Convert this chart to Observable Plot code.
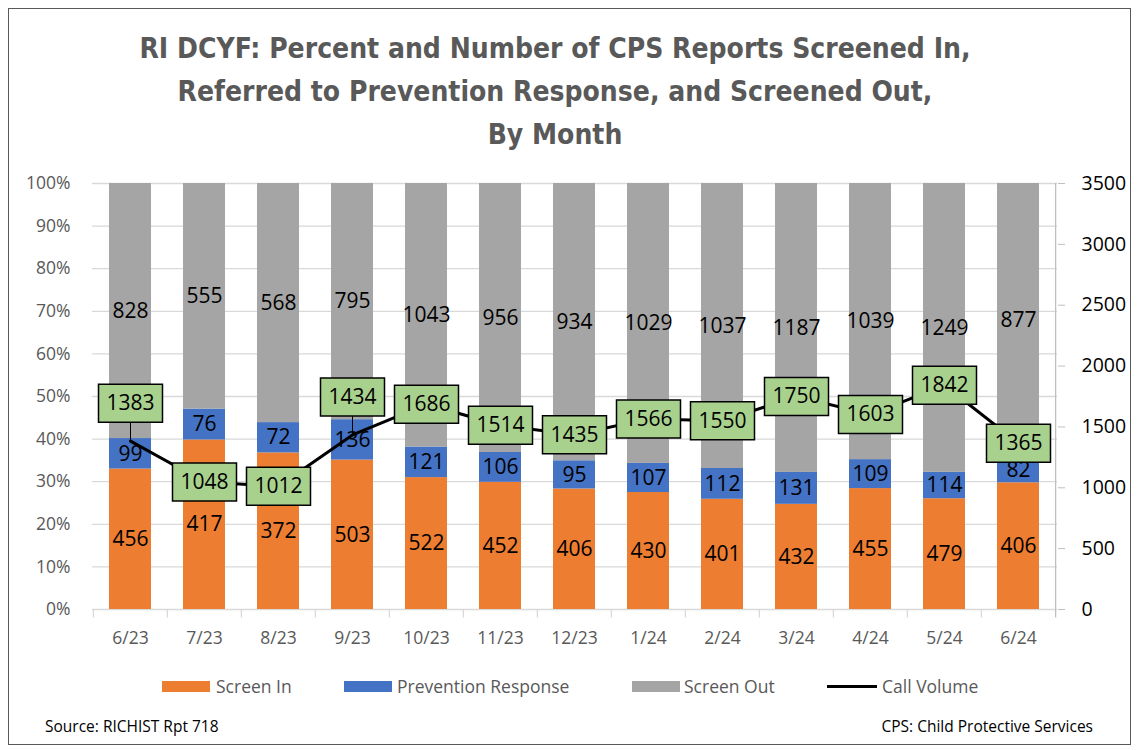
<!DOCTYPE html>
<html>
<head>
<meta charset="utf-8">
<script src="https://cdn.jsdelivr.net/npm/d3@7"></script>
<script src="https://cdn.jsdelivr.net/npm/@observablehq/plot@0.6"></script>
<style>
  html, body { margin: 0; padding: 0; background: #fff; }
  #wrap { position: relative; width: 1138px; height: 750px; background: #fff; overflow: hidden; font-family: "Open Sans", sans-serif; }
  #frame { position: absolute; left: 8px; top: 8px; width: 1123px; height: 737px; border: 1.5px solid #595959; box-sizing: border-box; }
  #title { position: absolute; top: 27px; left: 0; width: 1110px; text-align: center; font-family: "DejaVu Sans Condensed", "Liberation Sans Narrow", sans-serif; font-weight: bold; font-size: 28px; line-height: 43px; color: #595959; }
  #chart { position: absolute; left: 0; top: 165px; }
  .leg { position: absolute; top: 675px; font-size: 17.5px; color: #595959; line-height: 22px; white-space: nowrap; }
  .sw { position: absolute; }
  .foot { position: absolute; top: 715px; font-size: 15.5px; color: #000; white-space: nowrap; }
</style>
</head>
<body>
<div id="wrap">
  <div id="frame"></div>
  <div id="title">RI DCYF: Percent and Number of CPS Reports Screened In,<br>Referred to Prevention Response, and Screened Out,<br>By Month</div>
  <div id="chart"></div>
  <div id="legend"></div>
  <div class="foot" style="left:45px">Source: RICHIST Rpt 718</div>
  <div class="foot" style="right:45px">CPS: Child Protective Services</div>
</div>
<script>
const months = ["6/23","7/23","8/23","9/23","10/23","11/23","12/23","1/24","2/24","3/24","4/24","5/24","6/24"];
const screenIn   = [456, 417, 372, 503, 522, 452, 406, 430, 401, 432, 455, 479, 406];
const prevention = [99, 76, 72, 136, 121, 106, 95, 107, 112, 131, 109, 114, 82];
const screenOut  = [828, 555, 568, 795, 1043, 956, 934, 1029, 1037, 1187, 1039, 1249, 877];
const callVolume = [1383, 1048, 1012, 1434, 1686, 1514, 1435, 1566, 1550, 1750, 1603, 1842, 1365];
const seriesNames = ["Screen In", "Prevention Response", "Screen Out"];
const seriesColors = ["#ED7D31", "#4472C4", "#A5A5A5"];
const leftTicks = [0, 0.1, 0.2, 0.3, 0.4, 0.5, 0.6, 0.7, 0.8, 0.9, 1];
const rightTicks = [0, 500, 1000, 1500, 2000, 2500, 3000, 3500];
const rightMax = 3500;
const raisedLabels = ["6/23", "9/23"];

const rows = [];
months.forEach((m, i) => {
  rows.push({month: m, series: seriesNames[0], value: screenIn[i]});
  rows.push({month: m, series: seriesNames[1], value: prevention[i]});
  rows.push({month: m, series: seriesNames[2], value: screenOut[i]});
});
const calls = months.map((m, i) => ({month: m, v: callVolume[i], y: callVolume[i] / rightMax}));

const W = 1138, H = 495, ML = 92, MR = 81, MT = 18, MB = 51;
const step = (W - ML - MR) / months.length;
const raise = 0.089;
const labelY = d => d.y + (raisedLabels.includes(d.month) ? raise : 0);

const boxSymbol = {
  draw(ctx) {
    ctx.moveTo(-32, -19); ctx.lineTo(32, -19); ctx.lineTo(32, 19); ctx.lineTo(-32, 19); ctx.closePath();
  }
};

const chart = Plot.plot({
  width: W, height: H,
  marginLeft: ML, marginRight: MR, marginTop: MT, marginBottom: MB,
  style: {fontFamily: "'Open Sans', sans-serif", background: "transparent", overflow: "visible"},
  x: {type: "band", domain: months, paddingInner: 0.43, paddingOuter: 0.215, label: null},
  y: {domain: [0, 1], label: null},
  color: {domain: seriesNames, range: seriesColors},
  marks: [
    Plot.gridY(leftTicks, {stroke: "#d9d9d9", strokeOpacity: 1, strokeWidth: 1.3}),
    Plot.ruleX(months, {x: d => d, y1: 0, y2: -0.02, dx: -step / 2, stroke: "#d9d9d9", strokeWidth: 1.3}),
    Plot.ruleX([months[months.length - 1]], {x: d => d, y1: -0.02, y2: 1, dx: step / 2, stroke: "#bfbfbf", strokeWidth: 1.3}),
    Plot.barY(rows, {x: "month", y: "value", fill: "series", offset: "normalize"}),
    Plot.text(rows, Plot.stackY({x: "month", y: "value", z: "series", offset: "normalize", text: d => String(d.value), fontSize: 21, fill: "#000"})),
    Plot.axisY(leftTicks, {anchor: "left", tickFormat: d3.format(".0%"), tickSize: 0, tickPadding: 22, fontSize: 17.5, fill: "#595959"}),
    Plot.axisY(rightTicks.map(v => v / rightMax), {anchor: "right", tickFormat: d => String(Math.round(d * rightMax)), tickSize: 7, tickPadding: 17, fontSize: 19.5, stroke: "#bfbfbf", fill: "#000"}),
    Plot.axisX({tickSize: 0, tickPadding: 22, fontSize: 17.5, fill: "#595959"}),
    Plot.line(calls, {x: "month", y: "y", stroke: "#000", strokeWidth: 3}),
    Plot.link(calls.filter(d => raisedLabels.includes(d.month)), {x1: "month", x2: "month", y1: "y", y2: labelY, stroke: "#000", strokeWidth: 1}),
    Plot.dot(calls, {x: "month", y: labelY, symbol: boxSymbol, r: 5, fill: "#A9D18E", fillOpacity: 1, stroke: "#000", strokeWidth: 1.5}),
    Plot.text(calls, {x: "month", y: labelY, text: d => String(d.v), fontSize: 21, fill: "#000"})
  ]
});
document.getElementById("chart").appendChild(chart);

// Legend (HTML, below the chart)
const legend = document.getElementById("legend");
const legItems = [
  {label: seriesNames[0], color: seriesColors[0], kind: "box", sx: 162, tx: 216},
  {label: seriesNames[1], color: seriesColors[1], kind: "box", sx: 344, tx: 397},
  {label: seriesNames[2], color: seriesColors[2], kind: "box", sx: 632, tx: 684},
  {label: "Call Volume", color: "#000", kind: "line", sx: 827, tx: 882}
];
legItems.forEach(it => {
  const sw = document.createElement("div");
  sw.className = "sw";
  sw.style.left = it.sx + "px";
  sw.style.width = (it.kind === "line" ? 50 : 48) + "px";
  sw.style.height = (it.kind === "line" ? 3 : 11) + "px";
  sw.style.top = (it.kind === "line" ? 685 : 681) + "px";
  sw.style.background = it.color;
  legend.appendChild(sw);
  const t = document.createElement("div");
  t.className = "leg";
  t.style.left = it.tx + "px";
  t.textContent = it.label;
  legend.appendChild(t);
});
</script>
</body>
</html>
